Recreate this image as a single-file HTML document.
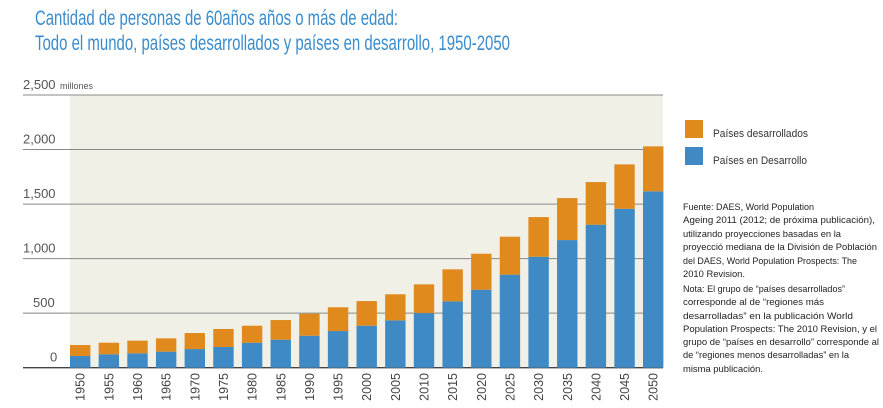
<!DOCTYPE html>
<html><head><meta charset="utf-8"><style>
body{margin:0;background:#fff;}
svg{display:block;font-family:"Liberation Sans",sans-serif;}
</style></head><body>
<svg id="chart" width="883" height="408" viewBox="0 0 883 408">
<text x="35" y="25" font-size="21" fill="#3a8ccc" textLength="363" lengthAdjust="spacingAndGlyphs">Cantidad de personas de 60años años o más de edad:</text>
<text x="35" y="50" font-size="21" fill="#3a8ccc" textLength="475" lengthAdjust="spacingAndGlyphs">Todo el mundo, países desarrollados y países en desarrollo, 1950-2050</text>
<rect x="70" y="95" width="593" height="273" fill="#f0f0e6"/>
<g id="grid"></g>
<g id="bars"></g>
<g id="xlabels"></g>
<rect x="685" y="120" width="18" height="18" fill="#e08a1e"/>
<text x="713" y="137" font-size="11" fill="#333" textLength="95" lengthAdjust="spacingAndGlyphs">Países desarrollados</text>
<rect x="685" y="147" width="18" height="18" fill="#3f8ac4"/>
<text x="713" y="164" font-size="11" fill="#333" textLength="94" lengthAdjust="spacingAndGlyphs">Países en Desarrollo</text>
<g id="notes" font-size="9.5" fill="#222"></g>
</svg>
<script>
const years=[1950,1955,1960,1965,1970,1975,1980,1985,1990,1995,2000,2005,2010,2015,2020,2025,2030,2035,2040,2045,2050];
const developing=[107,123,132,147,171,190,229,257,293,336,385,434,501,608,715,853,1017,1170,1311,1457,1617];
const developed=[101,106,116,122,147,165,156,180,202,218,226,239,263,294,330,348,364,385,391,407,412];
const yTicks=[0,500,1000,1500,2000,2500];
const yTickLabels=["0","500","1,000","1,500","2,000","2,500"];
const NS="http://www.w3.org/2000/svg";
const y0=367.7,ky=(367.7-95)/2500;
function yScale(v){return y0-v*ky;}
function xScale(i){return 70+i*28.65;}
const bw=20.4;
function mk(t,a,p){const e=document.createElementNS(NS,t);for(const k in a)e.setAttribute(k,a[k]);p.appendChild(e);return e;}
const grid=document.getElementById('grid');
yTicks.forEach((v,i)=>{
  const y=yScale(v);
  const l=mk('line',{x1:23,x2:663,y1:y,y2:y,stroke:i===0?'#444':'#888','stroke-width':i===0?1.3:1},grid);
  
  
  const lw=yTickLabels[i].length;
  const t=mk('text',{x:i===0?50:(lw===3?33:23),y:y-6,'font-size':13,fill:'#555'},grid);
  t.textContent=yTickLabels[i];
  
  
});
const mil=mk('text',{x:60,y:yScale(2500)-6,'font-size':9,fill:'#555'},grid);
mil.textContent='millones';


const bars=document.getElementById('bars'),xl=document.getElementById('xlabels');
years.forEach((yr,i)=>{
  const x=xScale(i);
  const b=mk('rect',{x:x,y:yScale(developing[i]),width:bw,height:y0-yScale(developing[i]),fill:'#3f8ac4'},bars);
  
  
  const tot=developing[i]+developed[i];
  const o=mk('rect',{x:x,y:yScale(tot),width:bw,height:yScale(developing[i])-yScale(tot),fill:'#e08a1e'},bars);
  
  
  const cx=x+bw/2+4.5;
  const t=mk('text',{x:cx,y:373,'font-size':12.5,fill:'#444','text-anchor':'end',transform:`rotate(-90 ${cx} 373)`},xl);
  t.textContent=yr;
  
  
});
const notes=[
["Fuente: DAES, World Population",210,131],
["Ageing 2011 (2012; de próxima publicación),",223,192],
["utilizando proyecciones basadas en la",237,158],
["proyecció mediana de la División de Población",250,194],
["del DAES, World Population Prospects: The",264,174],
["2010 Revision.",277,62],
["Nota: El grupo de “países desarrollados”",292,162],
["corresponde al de “regiones más",305,141],
["desarrolladas” en la publicación World",319,170],
["Population Prospects: The 2010 Revision, y el",332,194],
["grupo de “países en desarrollo” corresponde al",345,196],
["de “regiones menos desarrolladas” en la",358,166],
["misma publicación.",372,80]];
const ng=document.getElementById('notes');
notes.forEach((n,i)=>{
  const t=mk('text',{x:683,y:n[1],textLength:n[2],lengthAdjust:'spacingAndGlyphs'},ng);
  t.textContent=n[0];
  
  
});
</script>
</body></html>
